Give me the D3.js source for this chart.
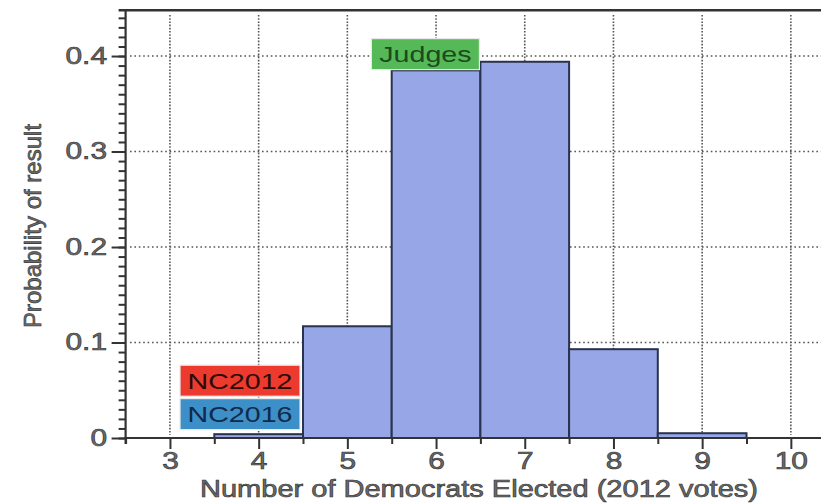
<!DOCTYPE html>
<html>
<head>
<meta charset="utf-8">
<script src="https://cdn.jsdelivr.net/npm/d3@7"></script>
<style>
  html, body { margin: 0; padding: 0; background: #fff; }
  svg { display: block; font-family: "Liberation Sans", Arial, Helvetica, sans-serif; }
</style>
</head>
<body>
<svg id="chart" width="821" height="503"></svg>
<script>
// ---- data ----
const bins = [4, 5, 6, 7, 8, 9, 10];
const probs = [0.004, 0.117, 0.385, 0.394, 0.093, 0.005, 0];
const xTicks = [3, 4, 5, 6, 7, 8, 9, 10];
const yTicks = [0, 0.1, 0.2, 0.3, 0.4];
const yTickLabels = ["0", "0.1", "0.2", "0.3", "0.4"];
const labelNames = ["Judges", "NC2012", "NC2016"];
const labelX = [5.88, 3.79, 3.79];
const labelY = [0.402, 0.060, 0.025];
const labelColors = ["#55b957", "#ec3b2e", "#3d8fc8"];
const labelTextColors = ["#1c4a1e", "#2a0b08", "#0f2a4a"];
const xTitle = "Number of Democrats Elected (2012 votes)";
const yTitle = "Probability of result";

// ---- layout ----
const W = 821, H = 503;
const SX = 1.3; // horizontal stretch of the lettering
const svg = d3.select("#chart");
const x = d3.scaleLinear().domain([2.5, 10.5]).range([125.6, 835.2]);
const y = d3.scaleLinear().domain([0, 0.448]).range([438, 10.2]);
const axisColor = "#333";
const textFill = "#6a6a6a";
const textStroke = "#333";

// grid
const grid = svg.append("g");
grid.selectAll("line.v").data(xTicks).join("line")
  .attr("x1", d => x(d)).attr("x2", d => x(d))
  .attr("y1", 15).attr("y2", 435)
  .attr("stroke", "#555").attr("stroke-width", 1.6).attr("stroke-dasharray", "1.6,1.6");
grid.selectAll("line.h").data(yTicks.slice(1)).join("line")
  .attr("x1", 130).attr("x2", W)
  .attr("y1", d => y(d)).attr("y2", d => y(d))
  .attr("stroke", "#555").attr("stroke-width", 1.6).attr("stroke-dasharray", "1.6,2.8");

// bars
const bars = bins.map((b, i) => ({ b, p: probs[i] })).filter(d => d.p > 0);
svg.append("g").selectAll("rect").data(bars).join("rect")
  .attr("x", d => x(d.b - 0.5))
  .attr("width", d => x(d.b + 0.5) - x(d.b - 0.5))
  .attr("y", d => y(d.p))
  .attr("height", d => y(0) - y(d.p))
  .attr("fill", "#96a6e6")
  .attr("stroke", "#29324e")
  .attr("stroke-width", 2);

// axes
const xMinor = d3.range(2.5, 10.6, 1);
const gxMinor = svg.append("g").attr("transform", `translate(0,${y(0)})`)
  .call(d3.axisBottom(x).tickValues(xMinor).tickSize(6).tickFormat(""));
const gx = svg.append("g").attr("transform", `translate(0,${y(0)})`)
  .call(d3.axisBottom(x).tickValues(xTicks).tickSize(11).tickPadding(4).tickFormat(d3.format("d")));
const yMinor = d3.range(0, 0.445, 0.01);
const gyMinor = svg.append("g").attr("transform", `translate(${x(2.5)},0)`)
  .call(d3.axisLeft(y).tickValues(yMinor).tickSize(7).tickFormat(""));
const gy = svg.append("g").attr("transform", `translate(${x(2.5)},0)`)
  .call(d3.axisLeft(y).tickValues(yTicks).tickSize(14).tickPadding(4)
    .tickFormat((d, i) => yTickLabels[i]));

[gx, gxMinor, gy, gyMinor].forEach(g => {
  g.select(".domain").remove();
  g.selectAll(".tick line").attr("stroke", axisColor).attr("stroke-width", 2);
  g.selectAll(".tick text").attr("fill", textFill).attr("stroke", textStroke).attr("stroke-width", 0.6)
    .attr("font-size", 23).attr("font-family", "'Liberation Sans', Arial, sans-serif");
});
gx.selectAll(".tick text").attr("transform", `scale(${SX},1)`);
gy.selectAll(".tick text").attr("x", -18.6 / SX).attr("transform", `scale(${SX},1)`);

// axis lines
svg.append("line").attr("x1", x(2.5) - 1).attr("x2", W).attr("y1", y(0)).attr("y2", y(0))
  .attr("stroke", axisColor).attr("stroke-width", 2);
svg.append("line").attr("x1", x(2.5)).attr("x2", x(2.5)).attr("y1", 9.5).attr("y2", 444)
  .attr("stroke", axisColor).attr("stroke-width", 2.2);
svg.append("line").attr("x1", x(2.5) - 7).attr("x2", W).attr("y1", y(0.448)).attr("y2", y(0.448))
  .attr("stroke", axisColor).attr("stroke-width", 2.4);

// titles
svg.append("text").attr("x", 479).attr("y", 497).attr("text-anchor", "middle")
  .attr("font-size", 23).attr("fill", textFill).attr("stroke", textStroke).attr("stroke-width", 0.6)
  .attr("textLength", 558).attr("lengthAdjust", "spacingAndGlyphs")
  .text(xTitle);
svg.append("text").attr("transform", "translate(41,226) rotate(-90)").attr("text-anchor", "middle")
  .attr("font-size", 24).attr("fill", textFill).attr("stroke", textStroke).attr("stroke-width", 0.6)
  .text(yTitle);

// annotation labels
const labels = labelNames.map((n, i) => ({ n, x: labelX[i], y: labelY[i], c: labelColors[i], t: labelTextColors[i] }));
const lg = svg.append("g").selectAll("g").data(labels).join("g")
  .attr("transform", d => `translate(${x(d.x)},${y(d.y)})`);
lg.append("rect")
  .attr("x", d => d.n === "Judges" ? -54 : -60)
  .attr("width", d => d.n === "Judges" ? 108 : 120)
  .attr("y", -15.5).attr("height", 31)
  .attr("fill", d => d.c).attr("stroke", "#e8e8e8").attr("stroke-width", 1.2);
lg.append("text").attr("text-anchor", "middle").attr("y", 8)
  .attr("font-size", 22).attr("fill", d => d.t)
  .attr("transform", `scale(${SX},1)`)
  .text(d => d.n);
</script>
</body>
</html>
